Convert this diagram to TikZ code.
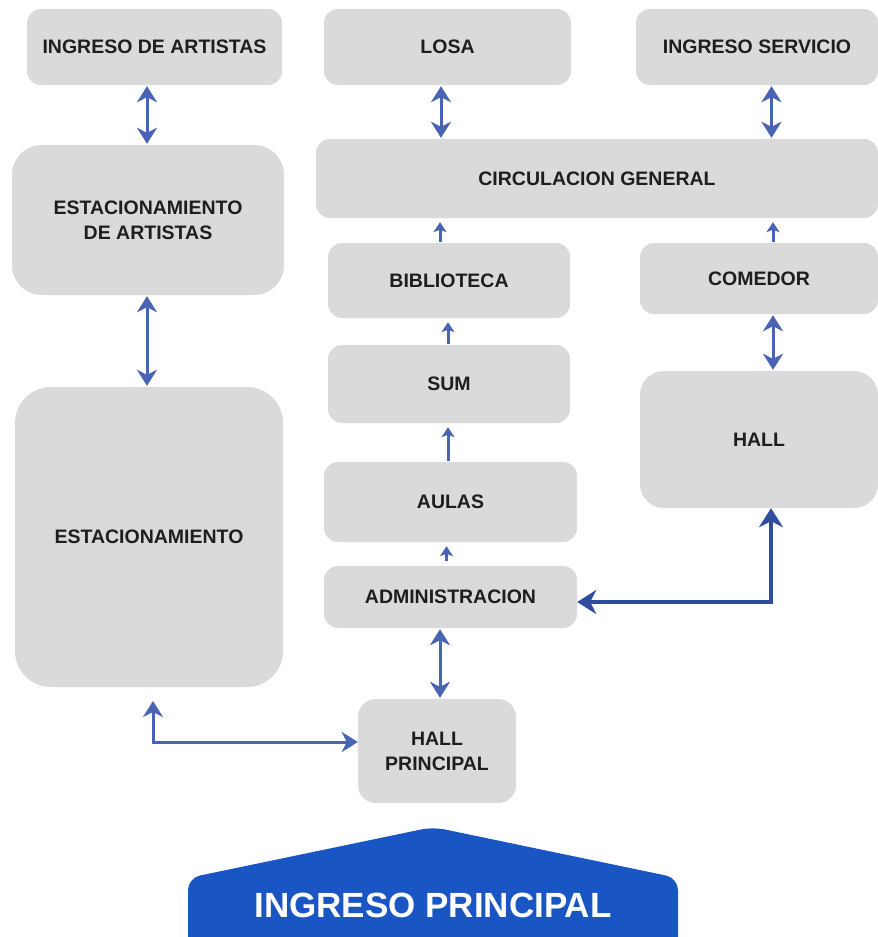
\documentclass[tikz,border=0pt]{standalone}
\usepackage{fontspec}
\setmainfont{Liberation Sans}
\usetikzlibrary{arrows.meta,calc}
\definecolor{boxgray}{HTML}{DADADA}
\definecolor{arrowblue}{HTML}{4A64B4}
\definecolor{darkarrow}{HTML}{2F4C9E}
\definecolor{entryblue}{HTML}{1A55C4}
\definecolor{txt}{HTML}{1E1E1E}
\begin{document}
\begin{tikzpicture}[x=1pt,y=-1pt,
  box/.style={fill=boxgray, rounded corners=14pt, inner sep=0pt, text=txt,
    font=\bfseries\fontsize{19.5}{25}\selectfont, align=center},
  dbl/.style={arrowblue, line width=3pt,
    {Stealth[length=16pt,width=20pt,inset=5pt]}-{Stealth[length=16pt,width=20pt,inset=5pt]},
    shorten >=1pt, shorten <=1pt},
  dbldark/.style={darkarrow, line width=4pt,
    {Stealth[length=19pt,width=24pt,inset=6pt]}-{Stealth[length=19pt,width=24pt,inset=6pt]}},
  smallarrow/.style={arrowblue, line width=3pt,
    -{Stealth[length=10pt,width=13pt,inset=2.5pt]}, shorten >=4pt, shorten <=1pt}]
\clip (0,0) rectangle (878,937);
\useasboundingbox (0,0) rectangle (878,937);
\fill[white] (0,0) rectangle (878,937);

% boxes
\node[box, minimum width=255pt, minimum height=76pt] (ia) at (154.5,47) {INGRESO DE ARTISTAS};
\node[box, minimum width=247pt, minimum height=76pt] (losa) at (447.5,47) {LOSA};
\node[box, minimum width=242pt, minimum height=76pt] (is) at (757,47) {INGRESO SERVICIO};
\node[box, minimum width=272pt, minimum height=150pt, rounded corners=30pt] (ea) at (148,220) {ESTACIONAMIENTO\\DE ARTISTAS};
\node[box, minimum width=562pt, minimum height=79pt] (circ) at (597,178.5) {CIRCULACION GENERAL};
\node[box, minimum width=242pt, minimum height=75pt] (bib) at (449,280.5) {BIBLIOTECA};
\node[box, minimum width=238pt, minimum height=71pt] (com) at (759,278.5) {COMEDOR};
\node[box, minimum width=242pt, minimum height=78pt] (sum) at (449,384) {SUM};
\node[box, minimum width=238pt, minimum height=137pt, rounded corners=24pt] (hall) at (759,439.5) {HALL};
\node[box, minimum width=253pt, minimum height=80pt] (aulas) at (450.5,502) {AULAS};
\node[box, minimum width=253pt, minimum height=62pt] (admin) at (450.5,597) {ADMINISTRACION};
\node[box, minimum width=268pt, minimum height=300pt, rounded corners=36pt] (est) at (149,537) {ESTACIONAMIENTO};
\node[box, minimum width=158pt, minimum height=104pt, rounded corners=18pt] (hp) at (437,751) {HALL\\PRINCIPAL};

% entrance shape
\fill[entryblue, rounded corners=12pt] (188,960) -- (188,878) -- (433,827) -- (678,878) -- (678,960) -- cycle;
\node[text=white, font=\bfseries\fontsize{35}{40}\selectfont, inner sep=0pt] (ip) at (433,905) {INGRESO PRINCIPAL};

% x positions of connectors
\coordinate (xa) at (147,0);
\coordinate (xb) at (441,0);
\coordinate (xc) at (771.5,0);
\coordinate (xd) at (440,0);
\coordinate (xe) at (773,0);
\coordinate (xf) at (448,0);
\coordinate (xg) at (446.5,0);
\coordinate (xh) at (153,700);
\coordinate (yh) at (0,742);
\coordinate (yd) at (0,602);
\coordinate (xk) at (771,0);

% connectors
\draw[dbl] (ia.south -| xa) -- (ea.north -| xa);
\draw[dbl] (losa.south -| xb) -- (circ.north -| xb);
\draw[dbl] (is.south -| xc) -- (circ.north -| xc);
\draw[smallarrow] (bib.north -| xd) -- (circ.south -| xd);
\draw[smallarrow] (com.north -| xe) -- (circ.south -| xe);
\draw[smallarrow] (sum.north -| xf) -- (bib.south -| xf);
\draw[dbl] (com.south -| xe) -- (hall.north -| xe);
\draw[smallarrow] (aulas.north -| xf) -- (sum.south -| xf);
\draw[smallarrow, shorten <=5pt] (admin.north -| xg) -- (aulas.south -| xg);
\draw[dbl] (ea.south -| xa) -- (est.north -| xa);
\draw[dbl] (admin.south -| xd) -- (hp.north -| xd);
\draw[dbl, shorten >=0pt] (xh) |- (hp.west |- yh);
\draw[dbldark] (admin.east |- yd) -| (hall.south -| xk);
\end{tikzpicture}
\end{document}
